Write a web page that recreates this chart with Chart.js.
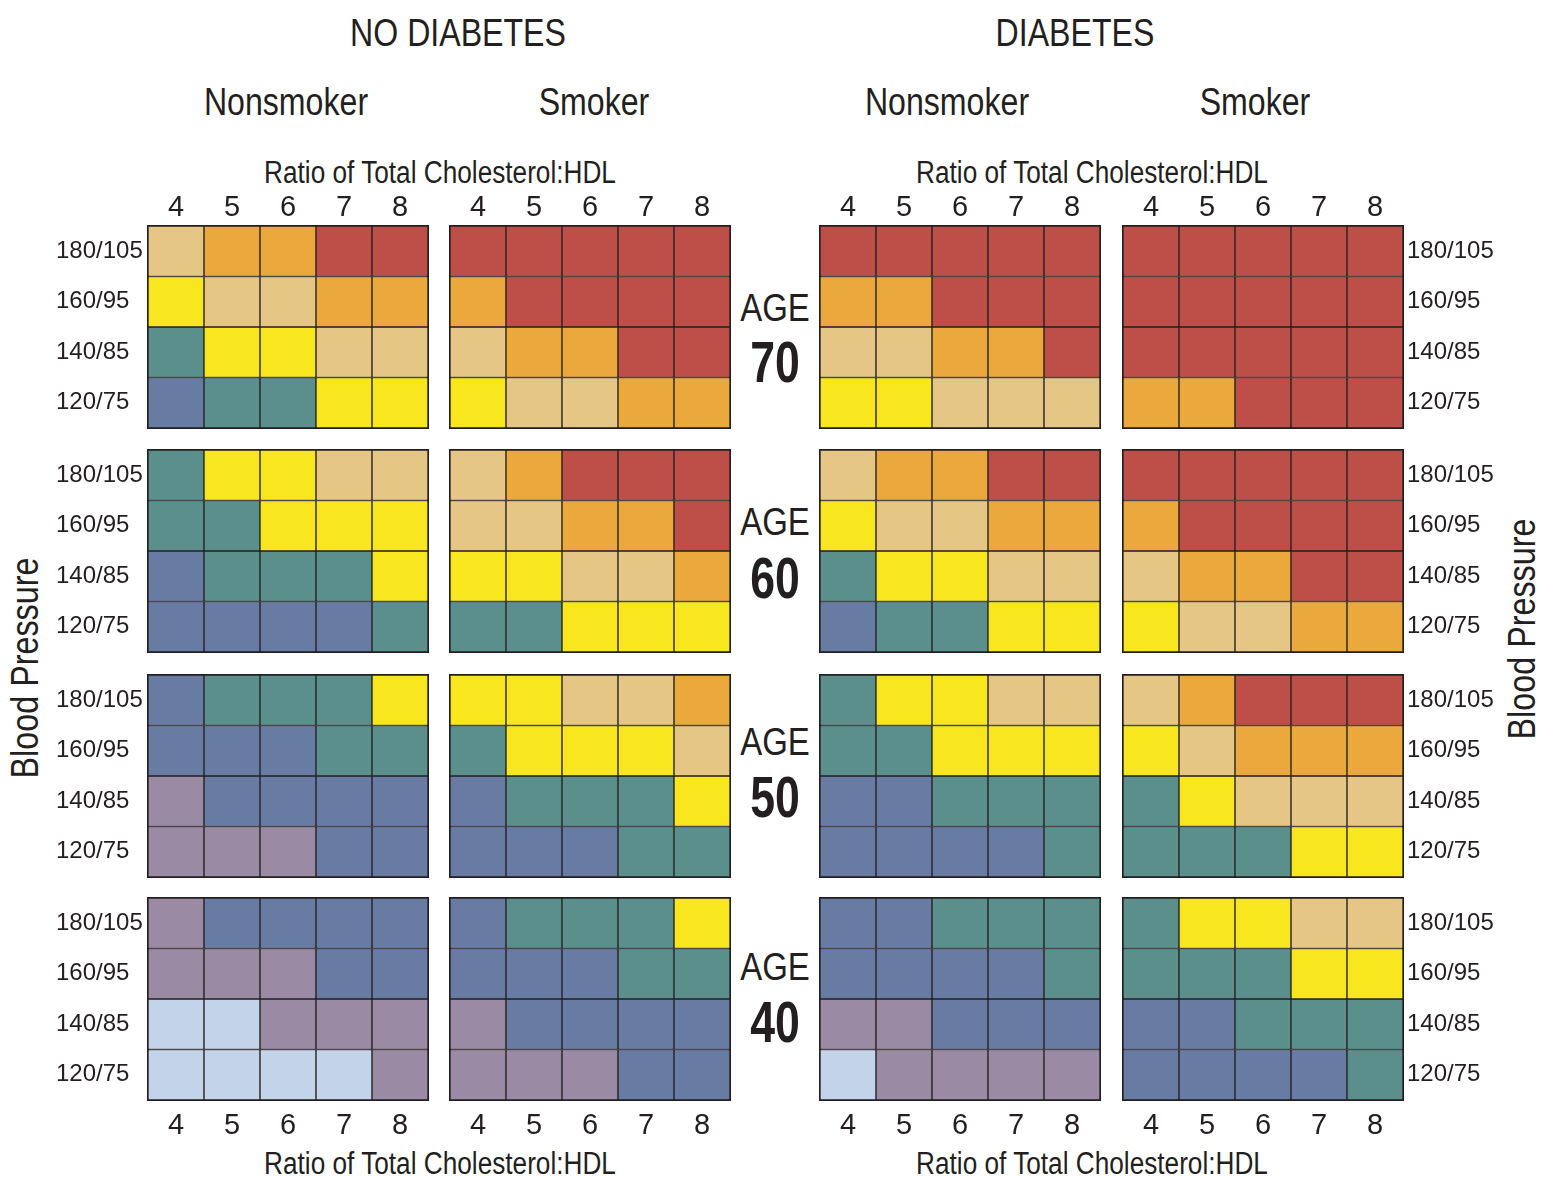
<!DOCTYPE html>
<html>
<head>
<meta charset="utf-8">
<script src="https://cdn.jsdelivr.net/npm/chart.js@4.4.1/dist/chart.umd.min.js"></script>
<style>
  body {
    margin: 0;
    background: #fff;
    width: 1541px;
    height: 1177px;
    position: relative;
    overflow: hidden;
    font-family: "Liberation Sans", Arial, sans-serif;
    color: #231f20;
  }
  .lbl {
    position: absolute;
    white-space: nowrap;
    line-height: 1;
    transform: translate(-50%, -50%) scaleX(0.845);
  }
  .head { font-size: 38px; }
  .axis { font-size: 31px; }
  .age { font-size: 39px; left: 775px; }
  .num { font-size: 58px; font-weight: bold; left: 775px; transform: translate(-50%, -50%) scaleX(0.77); }
  .rot { font-size: 38px; transform: translate(-50%, -50%) rotate(-90deg) scaleX(0.85); }
  canvas { position: absolute; }
</style>
</head>
<body>

<div class="lbl head" style="left:458px;top:33px">NO DIABETES</div>
<div class="lbl head" style="left:1075px;top:33px">DIABETES</div>
<div class="lbl head" style="left:286px;top:102px">Nonsmoker</div>
<div class="lbl head" style="left:594px;top:102px">Smoker</div>
<div class="lbl head" style="left:947px;top:102px">Nonsmoker</div>
<div class="lbl head" style="left:1255px;top:102px">Smoker</div>

<div class="lbl axis" style="left:440px;top:172px">Ratio of Total Cholesterol:HDL</div>
<div class="lbl axis" style="left:1092px;top:172px">Ratio of Total Cholesterol:HDL</div>
<div class="lbl axis" style="left:440px;top:1163px">Ratio of Total Cholesterol:HDL</div>
<div class="lbl axis" style="left:1092px;top:1163px">Ratio of Total Cholesterol:HDL</div>

<div class="lbl rot" style="left:25px;top:668px">Blood Pressure</div>
<div class="lbl rot" style="left:1522px;top:629px">Blood Pressure</div>

<div class="lbl age" style="top:307px">AGE</div>
<div class="lbl num" style="top:362px">70</div>
<div class="lbl age" style="top:521px">AGE</div>
<div class="lbl num" style="top:578px">60</div>
<div class="lbl age" style="top:741px">AGE</div>
<div class="lbl num" style="top:797px">50</div>
<div class="lbl age" style="top:966px">AGE</div>
<div class="lbl num" style="top:1022px">40</div>

<script>
// ---------------- Data ----------------
const ratios = ["4", "5", "6", "7", "8"];
const pressures = ["180/105", "160/95", "140/85", "120/75"];
const ages = ["70", "60", "50", "40"];

// risk level of each cell (0 = lowest ... 7 = highest)
// rows follow pressures (top to bottom), columns follow ratios
const age70NoDiabNonsmoker = [[5, 6, 6, 7, 7], [4, 5, 5, 6, 6], [3, 4, 4, 5, 5], [2, 3, 3, 4, 4]];
const age70NoDiabSmoker    = [[7, 7, 7, 7, 7], [6, 7, 7, 7, 7], [5, 6, 6, 7, 7], [4, 5, 5, 6, 6]];
const age70DiabNonsmoker   = [[7, 7, 7, 7, 7], [6, 6, 7, 7, 7], [5, 5, 6, 6, 7], [4, 4, 5, 5, 5]];
const age70DiabSmoker      = [[7, 7, 7, 7, 7], [7, 7, 7, 7, 7], [7, 7, 7, 7, 7], [6, 6, 7, 7, 7]];

const age60NoDiabNonsmoker = [[3, 4, 4, 5, 5], [3, 3, 4, 4, 4], [2, 3, 3, 3, 4], [2, 2, 2, 2, 3]];
const age60NoDiabSmoker    = [[5, 6, 7, 7, 7], [5, 5, 6, 6, 7], [4, 4, 5, 5, 6], [3, 3, 4, 4, 4]];
const age60DiabNonsmoker   = [[5, 6, 6, 7, 7], [4, 5, 5, 6, 6], [3, 4, 4, 5, 5], [2, 3, 3, 4, 4]];
const age60DiabSmoker      = [[7, 7, 7, 7, 7], [6, 7, 7, 7, 7], [5, 6, 6, 7, 7], [4, 5, 5, 6, 6]];

const age50NoDiabNonsmoker = [[2, 3, 3, 3, 4], [2, 2, 2, 3, 3], [1, 2, 2, 2, 2], [1, 1, 1, 2, 2]];
const age50NoDiabSmoker    = [[4, 4, 5, 5, 6], [3, 4, 4, 4, 5], [2, 3, 3, 3, 4], [2, 2, 2, 3, 3]];
const age50DiabNonsmoker   = [[3, 4, 4, 5, 5], [3, 3, 4, 4, 4], [2, 2, 3, 3, 3], [2, 2, 2, 2, 3]];
const age50DiabSmoker      = [[5, 6, 7, 7, 7], [4, 5, 6, 6, 6], [3, 4, 5, 5, 5], [3, 3, 3, 4, 4]];

const age40NoDiabNonsmoker = [[1, 2, 2, 2, 2], [1, 1, 1, 2, 2], [0, 0, 1, 1, 1], [0, 0, 0, 0, 1]];
const age40NoDiabSmoker    = [[2, 3, 3, 3, 4], [2, 2, 2, 3, 3], [1, 2, 2, 2, 2], [1, 1, 1, 2, 2]];
const age40DiabNonsmoker   = [[2, 2, 3, 3, 3], [2, 2, 2, 2, 3], [1, 1, 2, 2, 2], [0, 1, 1, 1, 1]];
const age40DiabSmoker      = [[3, 4, 4, 5, 5], [3, 3, 3, 4, 4], [2, 2, 3, 3, 3], [2, 2, 2, 2, 3]];

const panels = [
  [age70NoDiabNonsmoker, age70NoDiabSmoker, age70DiabNonsmoker, age70DiabSmoker],
  [age60NoDiabNonsmoker, age60NoDiabSmoker, age60DiabNonsmoker, age60DiabSmoker],
  [age50NoDiabNonsmoker, age50NoDiabSmoker, age50DiabNonsmoker, age50DiabSmoker],
  [age40NoDiabNonsmoker, age40NoDiabSmoker, age40DiabNonsmoker, age40DiabSmoker],
];

// ---------------- Style ----------------
const levelColors = ["#c3d3ea", "#9a8aa4", "#687ba3", "#5a8f8c", "#f8e71e", "#e5c685", "#eba93d", "#bd4f48"];
const ink = "#231f20";
const fontFamily = "'Liberation Sans', Arial, sans-serif";

const panelLeft = [148, 450, 820, 1123];
const panelTop = [226, 450, 675, 898];
const plotW = 280, plotH = 202;
const padL = 92, padR = 100, padT = 45, padB = 45;

const xTickFont = { family: fontFamily, size: 29 };
const yTickFont = { family: fontFamily, size: 24 };

function makePanel(grid, row, col) {
  const canvas = document.createElement("canvas");
  canvas.width = plotW + padL + padR;
  canvas.height = plotH + padT + padB;
  canvas.style.left = panelLeft[col] - padL + "px";
  canvas.style.top = panelTop[row] - padT + "px";
  document.body.appendChild(canvas);

  const frame = { display: true, color: ink, width: 2 };

  new Chart(canvas.getContext("2d"), {
    type: "bar",
    data: {
      labels: ratios,
      datasets: pressures.map((p, r) => ({
        label: p,
        data: ratios.map(() => 1),
        backgroundColor: grid[r].map((v) => levelColors[v]),
        borderColor: ink,
        borderWidth: 1,
        borderSkipped: false,
        barPercentage: 1,
        categoryPercentage: 1,
      })),
    },
    options: {
      responsive: false,
      animation: false,
      events: [],
      layout: { padding: 0 },
      plugins: { legend: { display: false }, tooltip: { enabled: false } },
      scales: {
        x: {
          stacked: true,
          position: "bottom",
          grid: { display: false, drawTicks: false },
          border: frame,
          ticks: { display: row === 3, color: ink, font: xTickFont, padding: 9, maxRotation: 0 },
          afterFit: (s) => { s.height = padB; },
        },
        xTop: {
          type: "category",
          labels: ratios,
          offset: true,
          position: "top",
          grid: { display: false, drawTicks: false },
          border: frame,
          ticks: { display: row === 0, color: ink, font: xTickFont, padding: 1, maxRotation: 0 },
          afterFit: (s) => { s.height = padT; },
        },
        y: { stacked: true, reverse: true, min: 0, max: pressures.length, display: false },
        yL: {
          type: "category",
          labels: pressures,
          offset: true,
          position: "left",
          grid: { display: false, drawTicks: false },
          border: frame,
          ticks: { display: col === 0, color: ink, font: yTickFont, crossAlign: "far", padding: 4 },
          afterFit: (s) => { s.width = padL; },
        },
        yR: {
          type: "category",
          labels: pressures,
          offset: true,
          position: "right",
          grid: { display: false, drawTicks: false },
          border: frame,
          ticks: { display: col === 3, color: ink, font: yTickFont, crossAlign: "near", padding: 4 },
          afterFit: (s) => { s.width = padR; },
        },
      },
    },
  });
}

panels.forEach((rowPanels, row) => {
  rowPanels.forEach((grid, col) => makePanel(grid, row, col));
});
</script>
</body>
</html>
